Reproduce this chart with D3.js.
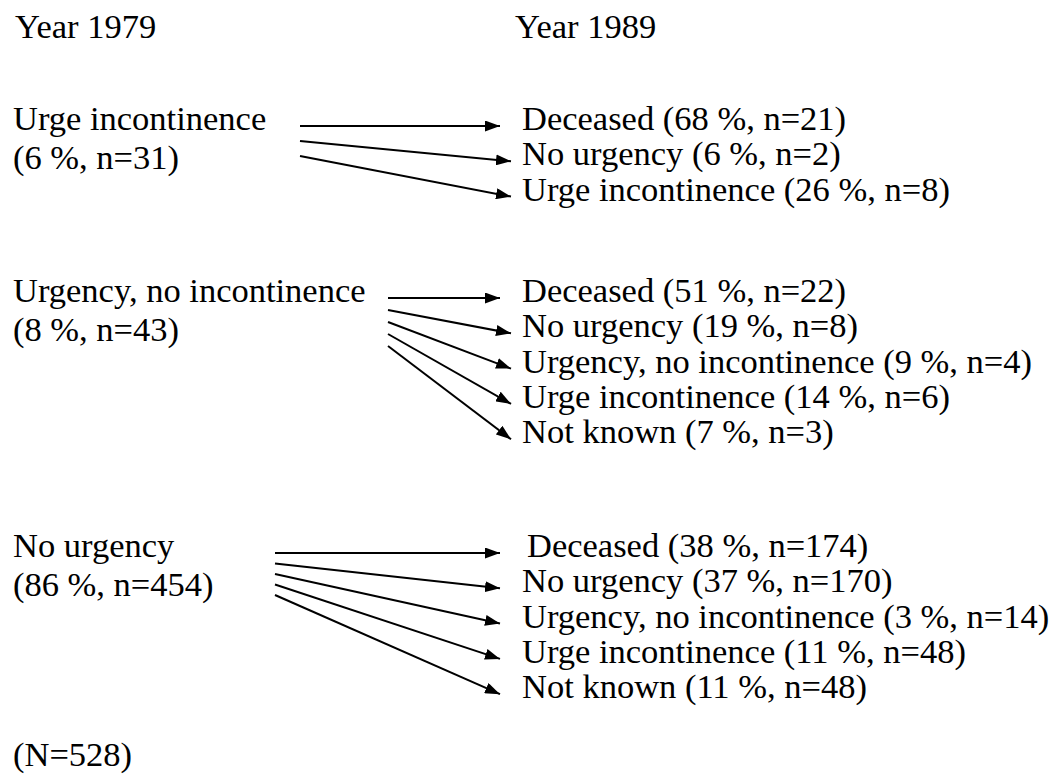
<!DOCTYPE html>
<html>
<head>
<meta charset="utf-8">
<script src="https://cdn.jsdelivr.net/npm/d3@7"></script>
<style>
  html, body { margin: 0; padding: 0; background: #fff; }
  svg { display: block; }
  text { font-family: "Liberation Serif", "Times New Roman", serif; fill: #000; }
</style>
</head>
<body>
<svg id="chart" width="1053" height="778"></svg>
<script>
// ---------- data ----------
const years = ["Year 1979", "Year 1989"];
const fromStates = ["Urge incontinence", "Urgency, no incontinence", "No urgency"];
const fromPct = [6, 8, 86];
const fromN = [31, 43, 454];
const totalN = 528;

const toStates1 = ["Deceased", "No urgency", "Urge incontinence"];
const toPct1 = [68, 6, 26];
const toN1 = [21, 2, 8];

const toStates2 = ["Deceased", "No urgency", "Urgency, no incontinence", "Urge incontinence", "Not known"];
const toPct2 = [51, 19, 9, 14, 7];
const toN2 = [22, 8, 4, 6, 3];

const toStates3 = ["Deceased", "No urgency", "Urgency, no incontinence", "Urge incontinence", "Not known"];
const toPct3 = [38, 37, 3, 11, 11];
const toN3 = [174, 170, 14, 48, 48];

const toStates = [toStates1, toStates2, toStates3];
const toPct = [toPct1, toPct2, toPct3];
const toN = [toN1, toN2, toN3];

// ---------- layout ----------
const W = 1053, H = 778;
const fontSize = 34.5;
const leftX = 13, rightX = 522;
const groupTop = [130, 302, 557];       // baseline of first row of each group
const rowStep = 35.3;                    // right column line spacing
const leftStep = 39;                     // left column line spacing
const arrowStartX = [300, 388, 275];
const arrowEndFlat = [500, 500, 500];
const arrowEndDiag = [511, 511, 500];
const arrowSpread = [15, 12, 10.5];
const arrowLift = 4;

const svg = d3.select("#chart");
svg.append("rect").attr("width", W).attr("height", H).attr("fill", "#fff");

svg.append("defs").append("marker")
  .attr("id", "arrowhead")
  .attr("viewBox", "0 0 15 11")
  .attr("refX", 15).attr("refY", 5.5)
  .attr("markerWidth", 15).attr("markerHeight", 11)
  .attr("markerUnits", "userSpaceOnUse")
  .attr("orient", "auto")
  .append("path").attr("d", "M0,0 L15,5.5 L0,11 Z").attr("fill", "#000");

// year headers
const yearX = d3.scaleOrdinal().domain(years).range([15, 515]);
svg.selectAll("text.year").data(years).join("text")
  .attr("class", "year")
  .attr("x", d => yearX(d)).attr("y", 38)
  .attr("font-size", fontSize)
  .text(d => d);

fromStates.forEach((state, g) => {
  const rowY = d3.scaleLinear().domain([0, 1]).range([groupTop[g], groupTop[g] + rowStep]);
  const leftY = d3.scaleLinear().domain([0, 1]).range([groupTop[g], groupTop[g] + leftStep]);

  // left labels
  svg.append("text").attr("x", leftX).attr("y", leftY(0)).attr("font-size", fontSize).text(state);
  svg.append("text").attr("x", leftX).attr("y", leftY(1)).attr("font-size", fontSize)
    .text(`(${fromPct[g]} %, n=${fromN[g]})`);

  const items = toStates[g].map((s, i) => ({ s, i, pct: toPct[g][i], n: toN[g][i] }));

  // right labels
  svg.selectAll(null).data(items).join("text")
    .attr("x", d => rightX + (g === 2 && d.i === 0 ? 5 : 0))
    .attr("y", d => rowY(d.i))
    .attr("font-size", fontSize)
    .text(d => `${d.s} (${d.pct} %, n=${d.n})`);

  // arrows
  const y0 = rowY(0) - arrowLift;
  svg.selectAll(null).data(items).join("line")
    .attr("x1", arrowStartX[g])
    .attr("y1", d => y0 + d.i * arrowSpread[g])
    .attr("x2", d => d.i === 0 ? arrowEndFlat[g] : arrowEndDiag[g])
    .attr("y2", d => rowY(d.i) - arrowLift)
    .attr("stroke", "#000").attr("stroke-width", 2)
    .attr("marker-end", "url(#arrowhead)");
});

// total
svg.append("text").attr("x", leftX).attr("y", 766).attr("font-size", fontSize).text(`(N=${totalN})`);
</script>
</body>
</html>
